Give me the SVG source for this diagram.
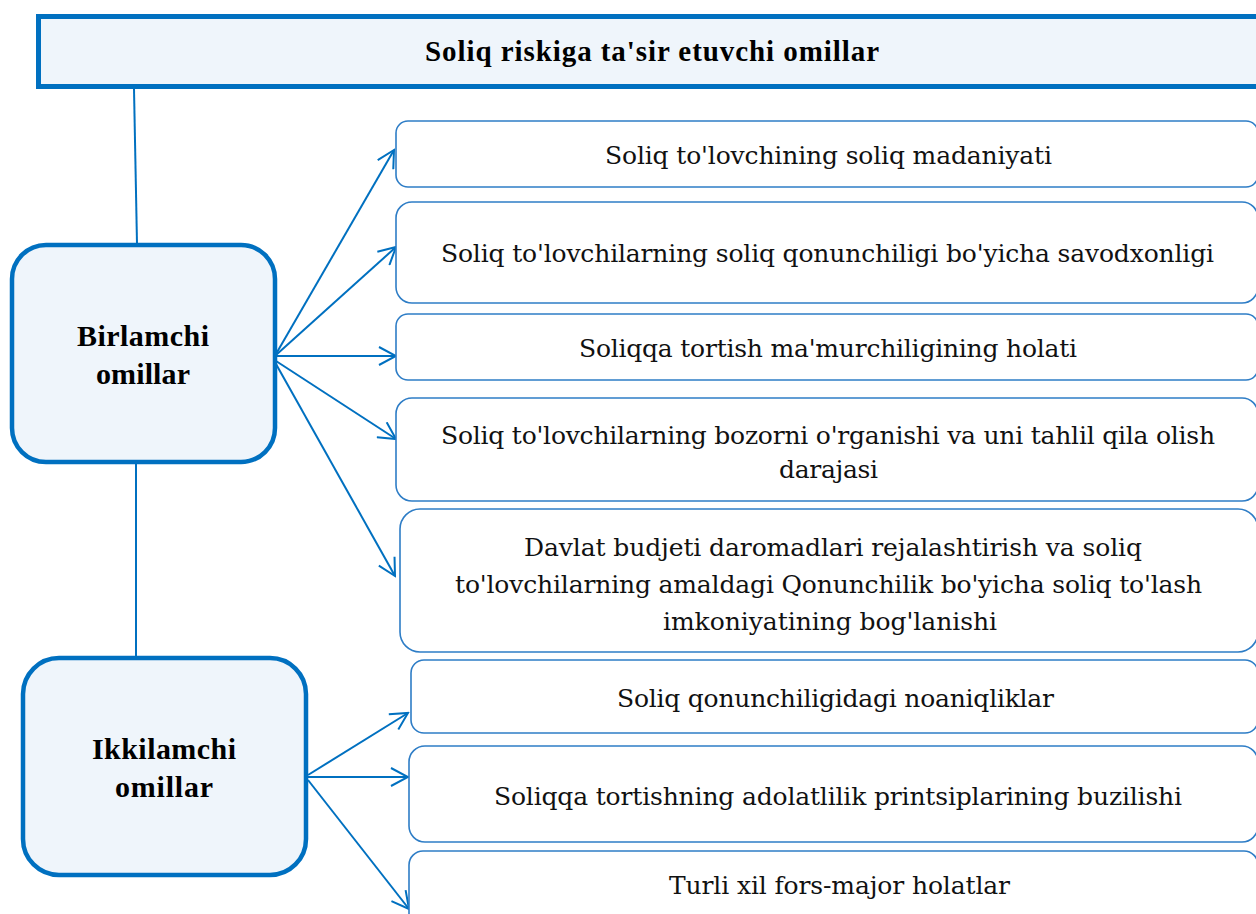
<svg xmlns="http://www.w3.org/2000/svg" width="1256" height="914" viewBox="0 0 1256 914">
<style>
.title{fill:#EFF5FB;stroke:#0070C0;stroke-width:5}
.main{fill:#EFF5FB;stroke:#0070C0;stroke-width:4.5}
.leaf{fill:#FFFFFF;stroke:#2E7DC6;stroke-width:1.6}
.t{font-family:"DejaVu Serif","Liberation Serif",serif;font-size:25px;fill:#111;text-anchor:middle}
.b{font-family:"Liberation Serif","DejaVu Serif",serif;font-weight:bold;fill:#000;text-anchor:middle}
.con{stroke:#0070C0;stroke-width:2;fill:none}
</style>
<defs>
<marker id="arr" viewBox="0 0 20 20" refX="18" refY="10" markerWidth="20" markerHeight="20" markerUnits="userSpaceOnUse" orient="auto">
<path d="M1,1 L18,10 L1,19" fill="none" stroke="#0070C0" stroke-width="2"/>
</marker>
</defs>
<g id="connectors">
<line class="con" x1="134" y1="89" x2="137" y2="244"/>
<line class="con" x1="136" y1="464" x2="136" y2="657"/>
<line class="con" x1="276" y1="354" x2="394" y2="150" marker-end="url(#arr)"/>
<line class="con" x1="276" y1="355" x2="396" y2="247" marker-end="url(#arr)"/>
<line class="con" x1="276" y1="356" x2="396" y2="356" marker-end="url(#arr)"/>
<line class="con" x1="276" y1="361" x2="396" y2="439" marker-end="url(#arr)"/>
<line class="con" x1="276" y1="364" x2="395" y2="576" marker-end="url(#arr)"/>
<line class="con" x1="308" y1="775" x2="408" y2="713" marker-end="url(#arr)"/>
<line class="con" x1="308" y1="777" x2="408" y2="777" marker-end="url(#arr)"/>
<line class="con" x1="308" y1="780" x2="409" y2="909" marker-end="url(#arr)"/>
</g>
<g id="title">
<rect class="title" x="38.5" y="16.5" width="1240" height="70"/>
<text class="b" x="652" y="61" font-size="29" textLength="454">Soliq riskiga ta'sir etuvchi omillar</text>
</g>
<g id="birlamchi">
<rect class="main" x="12" y="245" width="263" height="217" rx="34"/>
<text class="b" x="143" y="346" font-size="30" textLength="132">Birlamchi</text>
<text class="b" x="143" y="384" font-size="30" textLength="94">omillar</text>
</g>
<g id="ikkilamchi">
<rect class="main" x="23" y="658" width="283" height="217" rx="36"/>
<text class="b" x="164" y="759" font-size="30" textLength="144">Ikkilamchi</text>
<text class="b" x="164" y="797" font-size="30" textLength="98">omillar</text>
</g>
<g id="f1">
<rect class="leaf" x="396" y="121" width="862" height="66" rx="12"/>
<text class="t" x="828.5" y="164" textLength="447">Soliq to'lovchining soliq madaniyati</text>
</g>
<g id="f2">
<rect class="leaf" x="396" y="202" width="862" height="101" rx="16"/>
<text class="t" x="827.5" y="262" textLength="773">Soliq to'lovchilarning soliq qonunchiligi bo'yicha savodxonligi</text>
</g>
<g id="f3">
<rect class="leaf" x="396" y="314" width="862" height="66" rx="12"/>
<text class="t" x="828" y="357" textLength="498">Soliqqa tortish ma'murchiligining holati</text>
</g>
<g id="f4">
<rect class="leaf" x="396" y="398" width="862" height="103" rx="16"/>
<text class="t" x="828" y="444" textLength="774">Soliq to'lovchilarning bozorni o'rganishi va uni tahlil qila olish</text>
<text class="t" x="828.5" y="478" textLength="99">darajasi</text>
</g>
<g id="f5">
<rect class="leaf" x="400" y="509" width="858" height="143" rx="20"/>
<text class="t" x="833" y="556" textLength="618">Davlat budjeti daromadlari rejalashtirish va soliq</text>
<text class="t" x="828.5" y="593" textLength="747">to'lovchilarning amaldagi Qonunchilik bo'yicha soliq to'lash</text>
<text class="t" x="830" y="630" textLength="334">imkoniyatining bog'lanishi</text>
</g>
<g id="f6">
<rect class="leaf" x="411" y="660" width="847" height="73" rx="13"/>
<text class="t" x="835.5" y="707" textLength="437">Soliq qonunchiligidagi noaniqliklar</text>
</g>
<g id="f7">
<rect class="leaf" x="409" y="746" width="849" height="96" rx="16"/>
<text class="t" x="838" y="805" textLength="688">Soliqqa tortishning adolatlilik printsiplarining buzilishi</text>
</g>
<g id="f8">
<rect class="leaf" x="409" y="851" width="849" height="90" rx="14"/>
<text class="t" x="839.5" y="894" textLength="341">Turli xil fors-major holatlar</text>
</g>
</svg>
